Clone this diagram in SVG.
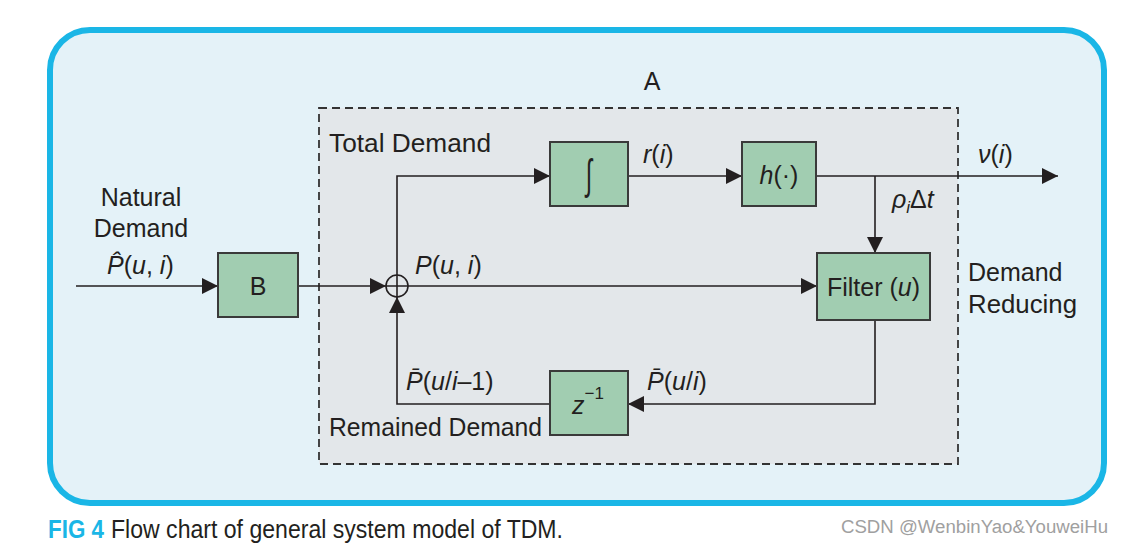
<svg xmlns="http://www.w3.org/2000/svg" width="1125" height="543" viewBox="0 0 1125 543">
<defs>
<marker id="arr" markerUnits="userSpaceOnUse" markerWidth="16" markerHeight="16" refX="16" refY="8" orient="auto">
<path d="M0,0 L16,8 L0,16 z" fill="#231f20"/>
</marker>
<style>
.t{font-family:"Liberation Sans",Arial,sans-serif;font-size:25px;fill:#231f20}
.i{font-style:italic}
.box{fill:#a1cdb1;stroke:#3a3a3a;stroke-width:2}
.con{fill:none;stroke:#231f20;stroke-width:1.6}
</style>
</defs>
<rect width="1125" height="543" fill="#ffffff"/>
<rect x="50" y="30" width="1054" height="473" rx="40" ry="40" fill="#e4f2f8" stroke="#1ab6e6" stroke-width="6"/>
<rect id="regionA" x="319" y="108" width="639" height="356" fill="#e3e7ea" stroke="#333" stroke-width="1.8" stroke-dasharray="8 5"/>
<text class="t" x="652" y="90" text-anchor="middle">A</text>

<g id="connectors">
<path class="con" d="M76,286 H218" marker-end="url(#arr)"/>
<path class="con" d="M298,286 H386" marker-end="url(#arr)"/>
<path class="con" d="M408,286 H817" marker-end="url(#arr)"/>
<path class="con" d="M397,275 V176 H550" marker-end="url(#arr)"/>
<path class="con" d="M628,176 H742" marker-end="url(#arr)"/>
<path class="con" d="M816,176 H1058" marker-end="url(#arr)"/>
<path class="con" d="M875,176 V253" marker-end="url(#arr)"/>
<path class="con" d="M875,320 V404 H628" marker-end="url(#arr)"/>
<path class="con" d="M550,404 H397 V297" marker-end="url(#arr)"/>
</g>

<g id="sum">
<circle cx="397" cy="286" r="11" fill="none" stroke="#231f20" stroke-width="1.6"/>
<path d="M386,286 H408 M397,275 V297" stroke="#231f20" stroke-width="1.6"/>
</g>

<g id="B">
<rect class="box" x="218" y="253" width="80" height="64"/>
<text class="t" x="258" y="295" text-anchor="middle">B</text>
</g>
<g id="integrator">
<rect class="box" x="550" y="142" width="78" height="64"/>
<text transform="translate(589,189) scale(0.55,1)" x="0" y="0" text-anchor="middle" style="font-family:'DejaVu Sans',sans-serif;font-size:42px;font-weight:200;fill:#231f20">∫</text>
</g>
<g id="h">
<rect class="box" x="742" y="142" width="74" height="64"/>
<text class="t" x="779" y="184" text-anchor="middle"><tspan class="i">h</tspan>(·)</text>
</g>
<g id="filter">
<rect class="box" x="817" y="253" width="113" height="67"/>
<text class="t" x="873.5" y="296" text-anchor="middle">Filter (<tspan class="i">u</tspan>)</text>
</g>
<g id="delay">
<rect class="box" x="550" y="371" width="78" height="64"/>
<text class="t" x="572" y="414"><tspan class="i">z</tspan><tspan font-size="17" dy="-15">−1</tspan></text>
</g>

<g id="labels">
<text class="t" x="141" y="206" text-anchor="middle">Natural</text>
<text class="t" x="141" y="237" text-anchor="middle">Demand</text>
<text class="t" x="107" y="274"><tspan class="i">P̂</tspan>(<tspan class="i">u</tspan>, <tspan class="i">i</tspan>)</text>
<text class="t" x="329" y="152" textLength="162" lengthAdjust="spacingAndGlyphs">Total Demand</text>
<text class="t" x="643" y="163"><tspan class="i">r</tspan>(<tspan class="i">i</tspan>)</text>
<text class="t" x="978" y="163"><tspan class="i">ν</tspan>(<tspan class="i">i</tspan>)</text>
<text class="t" x="892" y="208"><tspan class="i">ρ</tspan><tspan class="i" font-size="17" dy="5">i</tspan><tspan dy="-5">Δ</tspan><tspan class="i">t</tspan></text>
<text class="t" x="415" y="274"><tspan class="i">P</tspan>(<tspan class="i">u</tspan>, <tspan class="i">i</tspan>)</text>
<text class="t" x="968" y="281">Demand</text>
<text class="t" x="968" y="313" textLength="109" lengthAdjust="spacingAndGlyphs">Reducing</text>
<text class="t" x="647" y="390"><tspan class="i">P̄</tspan>(<tspan class="i">u</tspan>/<tspan class="i">i</tspan>)</text>
<text class="t" x="406" y="390"><tspan class="i">P̄</tspan>(<tspan class="i">u</tspan>/<tspan class="i">i</tspan>–1)</text>
<text class="t" x="329" y="436" textLength="213" lengthAdjust="spacingAndGlyphs">Remained Demand</text>
</g>

<g id="caption">
<text x="48" y="538" textLength="56" lengthAdjust="spacingAndGlyphs" style="font-family:'Liberation Sans',Arial,sans-serif;font-size:25px;font-weight:bold;fill:#1ab6e6">FIG 4</text>
<text x="111" y="538" textLength="452" lengthAdjust="spacingAndGlyphs" style="font-family:'Liberation Sans',Arial,sans-serif;font-size:25px;fill:#231f20">Flow chart of general system model of TDM.</text>
<text x="841" y="533" textLength="267" lengthAdjust="spacingAndGlyphs" style="font-family:'Liberation Sans',Arial,sans-serif;font-size:18px;fill:#a0a0a0">CSDN @WenbinYao&amp;YouweiHu</text>
</g>
</svg>
